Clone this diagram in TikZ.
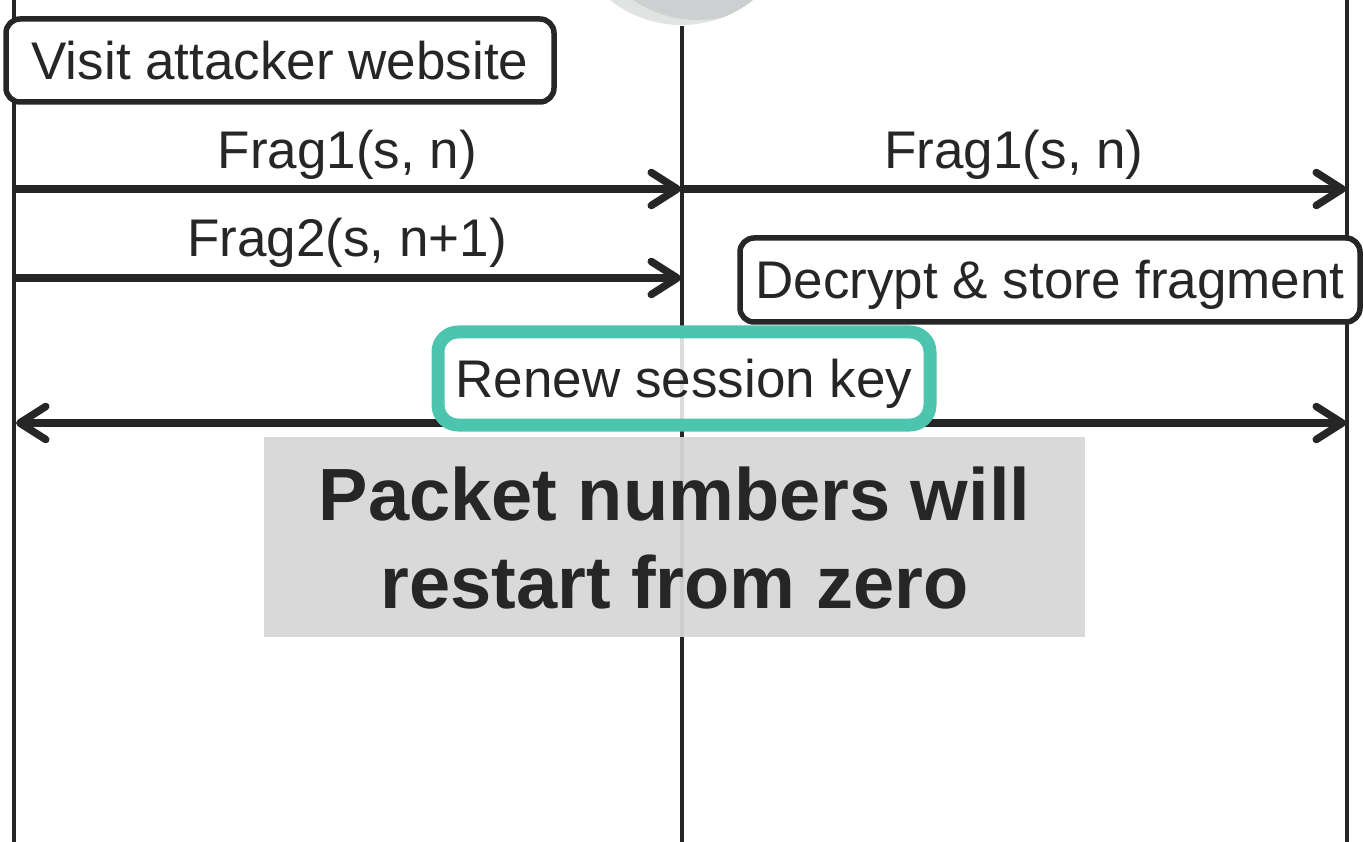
\documentclass[tikz,border=0pt]{standalone}
\usepackage{fontspec}
\setmainfont{Liberation Sans}
\usetikzlibrary{arrows.meta}
\definecolor{ink}{HTML}{262626}
\definecolor{renewteal}{HTML}{4CC4AE}
\definecolor{notegray}{HTML}{D7D7D7}
\definecolor{bulb}{HTML}{CDD0D1}
\definecolor{bulblight}{HTML}{E1E3E3}
\newcommand{\labelfont}{\fontsize{53pt}{64pt}\selectfont}
\newcommand{\bigfont}{\fontsize{74pt}{88pt}\selectfont\bfseries}
\tikzset{
  lifeline/.style={draw=ink, line width=4.5pt},
  msgarrow/.style={draw=ink, line width=7.5pt, -{Straight Barb[length=26pt,width=33pt,round]}},
  dblarrow/.style={draw=ink, line width=7.5pt, {Straight Barb[length=26pt,width=33pt,round]}-{Straight Barb[length=26pt,width=33pt,round]}},
  msglabel/.style={anchor=base, inner sep=0pt, text=ink, font=\labelfont},
  bigtext/.style={anchor=base, inner sep=0pt, text=ink, font=\bigfont},
  actbox/.style={draw=ink, line width=5.5pt, rounded corners=14pt, fill=white, text=ink, font=\labelfont,
    text height=38pt, text depth=0pt, inner sep=0pt},
  renewbox/.style={draw=renewteal, line width=13pt, rounded corners=20pt, fill=white, fill opacity=0.84,
    text opacity=1, text=ink, font=\labelfont, text height=38pt, text depth=0pt, inner sep=0pt},
  notebox/.style={fill=notegray, fill opacity=0.95, draw=none, inner sep=0pt}
}
\begin{document}
\begin{tikzpicture}[x=1pt,y=-1pt]
\useasboundingbox (0,0) rectangle (1363,842);
% top circle (partially visible)
\begin{scope}
  \clip (0,0) rectangle (1363,842);
  \fill[bulblight] (681.5,-90) circle (115);
  \begin{scope}
    \clip (681.5,-90) circle (115);
    \fill[bulb] (698,-95) circle (115);
  \end{scope}
\end{scope}
% lifelines
\coordinate (Lt) at (14,0);   \coordinate (Lb) at (14,842);
\coordinate (Mt) at (682,26); \coordinate (Mb) at (682,842);
\coordinate (Rt) at (1347,0); \coordinate (Rb) at (1347,842);
\draw[lifeline] (Lt) -- (Lb);
\draw[lifeline] (Mt) -- (Mb);
\draw[lifeline] (Rt) -- (Rb);
% messages
\coordinate (f1a) at (14,189);  \coordinate (f1b) at (681,189);
\coordinate (f1c) at (682,189); \coordinate (f1d) at (1346,189);
\coordinate (f2a) at (14,278);  \coordinate (f2b) at (681,278);
\coordinate (rka) at (16,423);  \coordinate (rkb) at (1346,423);
\draw[msgarrow] (f1a) -- (f1b);
\draw[msgarrow] (f1c) -- (f1d);
\draw[msgarrow] (f2a) -- (f2b);
\draw[dblarrow] (rka) -- (rkb);
\node[msglabel] (l1) at (347.5,169) {Frag1(s, n)};
\node[msglabel] (l2) at (1014,169) {Frag1(s, n)};
\node[msglabel] (l3) at (347,257) {Frag2(s, n+1)};
% boxes
\node[actbox, minimum width=548pt, minimum height=83pt] (visit) at (280,60.5) {Visit attacker website};
\node[actbox, minimum width=620pt, minimum height=84pt] (decrypt) at (1050,280) {Decrypt \& store fragment};
\node[renewbox, minimum width=492pt, minimum height=93pt] (renew) at (684,378.5) {Renew session key};
% note
\node[notebox, minimum width=821pt, minimum height=200pt] (note) at (674.5,537) {};
\node[bigtext] (n1) at (674.5,520) {Packet numbers will};
\node[bigtext] (n2) at (674.5,608) {restart from zero};
\end{tikzpicture}
\end{document}
